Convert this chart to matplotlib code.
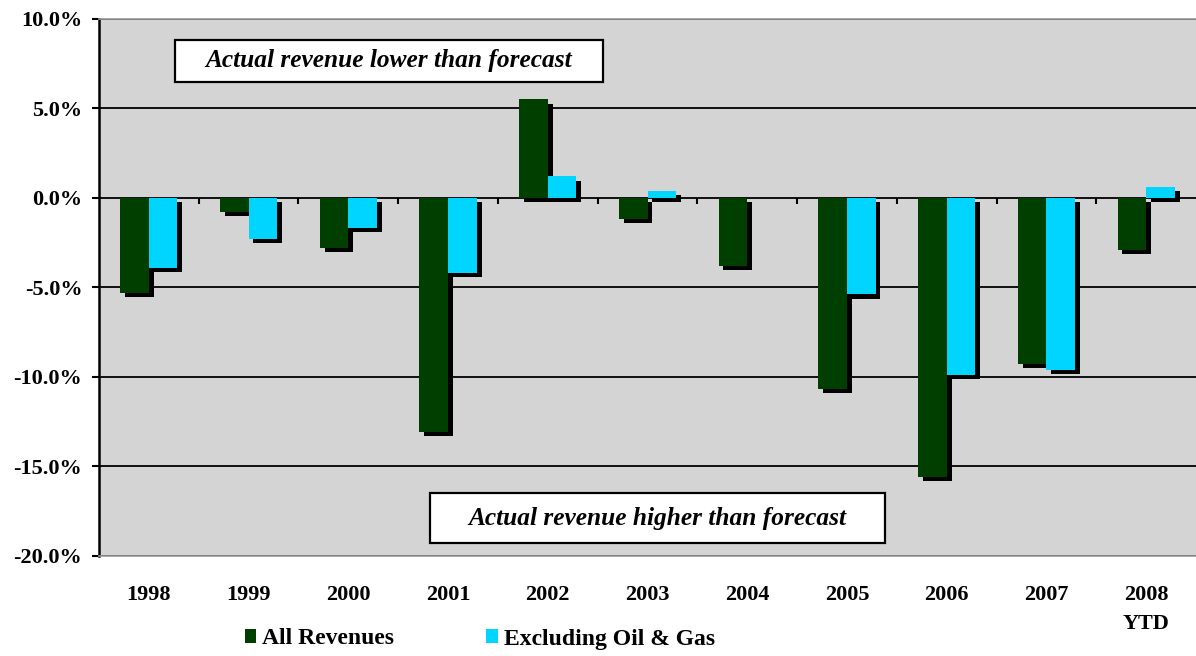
import matplotlib
matplotlib.use("Agg")
import matplotlib.pyplot as plt
import matplotlib.patheffects as pe
from matplotlib.patches import Patch, Rectangle
from matplotlib.ticker import FuncFormatter, MultipleLocator
import numpy as np

categories = ["1998", "1999", "2000", "2001", "2002", "2003", "2004",
              "2005", "2006", "2007", "2008\nYTD"]
all_revenues = [-5.3, -0.8, -2.8, -13.1, 5.5, -1.2, -3.8, -10.7, -15.6, -9.3, -2.9]
excl_oil_gas = [-3.9, -2.3, -1.7, -4.2, 1.2, 0.4, 0.0, -5.4, -9.9, -9.6, 0.6]
series_names = ["All Revenues", "Excluding Oil & Gas"]
note_top = "Actual revenue lower than forecast"
note_bottom = "Actual revenue higher than forecast"

plt.rcParams['font.family'] = ['Liberation Serif', 'DejaVu Serif']

W, H = 1196, 656
fig = plt.figure(figsize=(W / 100, H / 100), dpi=100)
ax = fig.add_axes([99 / W, 1 - 555.5 / H, (1196 - 99) / W, (555.5 - 19) / H])

green = "#003f00"
cyan = "#00d5ff"
ax.set_facecolor("#d4d4d4")

x = np.arange(len(categories))
bw = 0.287
shadow = [pe.SimplePatchShadow(offset=(3.5, -3), shadow_rgbFace="black", alpha=1.0), pe.Normal()]
ax.bar(x - bw / 2, all_revenues, bw, color=green, path_effects=shadow, zorder=3)
ax.bar(x + bw / 2, excl_oil_gas, bw, color=cyan, path_effects=shadow, zorder=4)

ax.set_xlim(-0.5, len(categories) - 0.5)
ax.set_ylim(-20, 10)
ax.yaxis.set_major_locator(MultipleLocator(5))
ax.yaxis.set_major_formatter(FuncFormatter(lambda v, p: f"{v:.1f}%"))
ax.grid(axis="y", color="black", linewidth=1.3)
ax.set_axisbelow(True)

for s in ["top", "bottom", "right"]:
    ax.spines[s].set_color("#999999")
    ax.spines[s].set_linewidth(1.2)
ax.spines["right"].set_visible(False)
ax.spines["left"].set_color("black")
ax.spines["left"].set_linewidth(1.8)

ax.tick_params(axis="y", direction="out", length=5, width=1.5, labelsize=16, pad=7)
ax.set_xticks(x)
ax.set_xticklabels(categories)
ax.tick_params(axis="x", length=0, labelsize=16, pad=21)
for lab in ax.get_xticklabels() + ax.get_yticklabels():
    lab.set_fontweight("bold")
for lab in ax.get_xticklabels():
    lab.set_linespacing(1.6)
    lab.set_verticalalignment("top")

# category boundary tick marks on the zero line
bounds = np.arange(len(categories) + 1) - 0.5
ax.vlines(bounds[1:-1], -0.32, 0, color="black", linewidth=1.5, zorder=2)

# annotation boxes
def note(x0, y0, x1, y1, text):
    fx0, fy0 = x0 / W, 1 - y1 / H
    fw, fh = (x1 - x0) / W, (y1 - y0) / H
    fig.patches.append(Rectangle((fx0, fy0), fw, fh, transform=fig.transFigure,
                                 facecolor="white", edgecolor="black", linewidth=1.6, zorder=5))
    fig.text(fx0 + fw / 2, fy0 + fh / 2, text, ha="center", va="center",
             fontsize=18.3, fontweight="bold", fontstyle="italic", zorder=6)

note(175, 40, 603, 82, note_top)
note(430, 493, 885, 543, note_bottom)

handles = [Patch(facecolor=green, edgecolor="none"), Patch(facecolor=cyan, edgecolor="none")]
leg = fig.legend(handles, series_names, loc="center", bbox_to_anchor=(480 / W, 1 - 639 / H),
                 ncol=2, frameon=False, handlelength=0.5, handleheight=0.5, handletextpad=0.25,
                 columnspacing=3.9, prop={"size": 17, "weight": "bold"})

fig.savefig("out.png", dpi=100)
